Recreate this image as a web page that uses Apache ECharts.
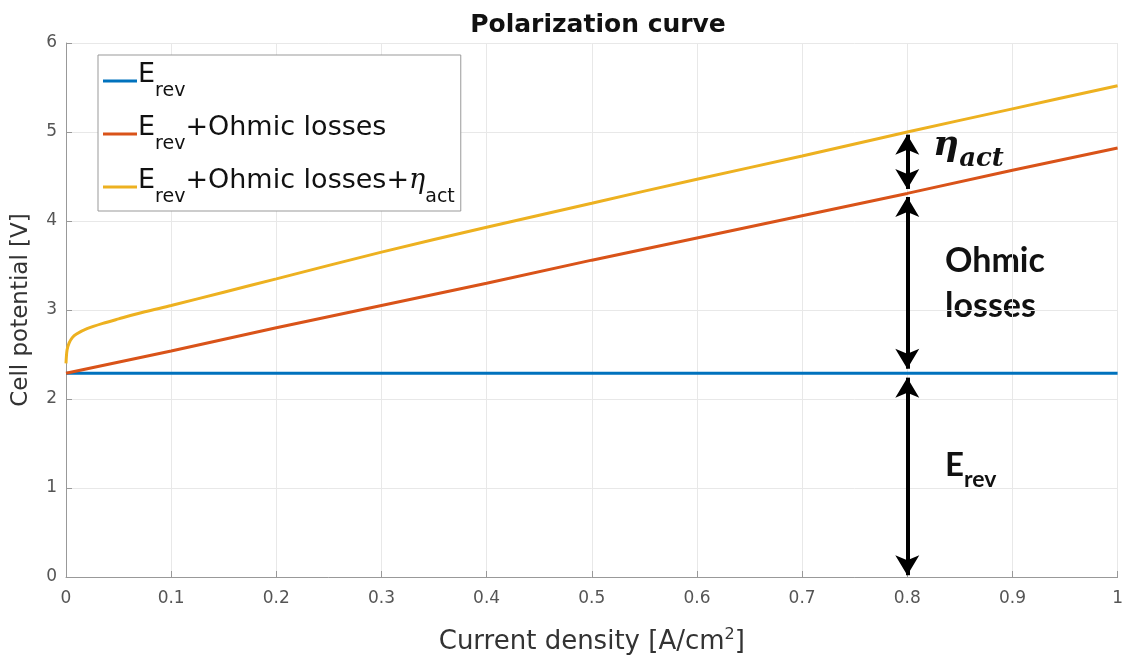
<!DOCTYPE html>
<html>
<head>
<meta charset="utf-8">
<script src="https://cdn.jsdelivr.net/npm/echarts@6/dist/echarts.min.js"></script>
<style>html,body{margin:0;padding:0;background:#fff;}#c{width:1126px;height:661px;}</style>
</head>
<body>
<div id="c"></div>
<script>
// Data
const xRed = [0, 0.1, 0.2, 0.3, 0.4, 0.5, 0.6, 0.7, 0.8, 0.9, 1.0];
const erevValues = [2.29, 2.29, 2.29, 2.29, 2.29, 2.29, 2.29, 2.29, 2.29, 2.29, 2.29];
const ohmicValues = [2.29, 2.54, 2.80, 3.05, 3.30, 3.56, 3.81, 4.06, 4.31, 4.57, 4.82];
const xYellow = [0, 0.001, 0.003, 0.006, 0.01, 0.02, 0.035, 0.05, 0.075, 0.1, 0.15, 0.2, 0.3, 0.4, 0.5, 0.6, 0.7, 0.8, 0.9, 1.0];
const actValues = [2.40, 2.55, 2.63, 2.69, 2.73, 2.79, 2.85, 2.90, 2.98, 3.05, 3.20, 3.35, 3.65, 3.93, 4.20, 4.47, 4.73, 5.00, 5.26, 5.52];
const xTicks = ['0', '0.1', '0.2', '0.3', '0.4', '0.5', '0.6', '0.7', '0.8', '0.9', '1'];
const yTicks = ['0', '1', '2', '3', '4', '5', '6'];
const arrowX = 0.8;
const arrowSegments = [[0.02, 2.24], [2.34, 4.27], [4.36, 4.97]];

function pairs(xs, ys) { return xs.map((x, i) => [x, ys[i]]); }

const FONT = 'DejaVu Sans, Liberation Sans, Arial';
const chart = echarts.init(document.getElementById('c'));
const legendRich = {
  m: { fontSize: 27, fontFamily: FONT, color: '#111', lineHeight: 40, verticalAlign: 'top' },
  s: { fontSize: 19, fontFamily: FONT, color: '#111', lineHeight: 40, verticalAlign: 'bottom', padding: [14,0,0,0] },
  g: { fontSize: 27, fontFamily: 'DejaVu Serif', fontStyle: 'italic', color: '#111', lineHeight: 40, verticalAlign: 'top' }
};
const option = {
  animation: false,
  backgroundColor: '#fff',
  title: {
    text: 'Polarization curve', left: 593, textAlign: 'center', top: 8,
    textStyle: { fontSize: 25, fontWeight: 'bold', fontFamily: FONT, color: '#111' }
  },
  grid: { left: 66, right: 5, top: 43, bottom: 84 },
  legend: {
    orient: 'vertical', left: 98, top: 55,
    backgroundColor: '#fff', borderColor: '#999', borderWidth: 1,
    padding: [6, 6, 4, 5], itemGap: 13, itemWidth: 34, itemHeight: 3, icon: 'rect',
    data: ['erev', 'ohm', 'act'],
    formatter: function (name) {
      if (name === 'erev') return '{m|E}{s|rev}';
      if (name === 'ohm') return '{m|E}{s|rev}{m|+Ohmic losses}';
      return '{m|E}{s|rev}{m|+Ohmic losses+}{g|η}{s|act}';
    },
    textStyle: { rich: legendRich, padding: [0, 0, 0, -4] }
  },
  xAxis: {
    type: 'value', min: 0, max: 1, interval: 0.1,
    name: 'Current density [A/cm{sup|2}]', nameLocation: 'middle', nameGap: 50,
    nameTextStyle: { fontSize: 26, color: '#333', fontFamily: FONT,
      rich: { sup: { fontSize: 16, color: '#333', fontFamily: FONT, verticalAlign: 'top', padding: [0, 0, 14, 0] } } },
    axisLine: { lineStyle: { color: '#999', width: 1 } },
    axisTick: { inside: true, length: 6, lineStyle: { color: '#999' } },
    axisLabel: { fontSize: 17, color: '#555', margin: 13, fontFamily: FONT,
      formatter: function (v) { return xTicks[Math.round(v * 10)]; } },
    splitLine: { show: true, lineStyle: { color: '#e8e8e8', width: 1 } }
  },
  yAxis: {
    type: 'value', min: 0, max: 6, interval: 1,
    name: 'Cell potential [V]', nameLocation: 'middle', nameGap: 33,
    nameTextStyle: { fontSize: 23, color: '#333', fontFamily: FONT },
    axisLine: { show: true, lineStyle: { color: '#999', width: 1 } },
    axisTick: { show: true, inside: true, length: 6, lineStyle: { color: '#999' } },
    axisLabel: { fontSize: 17, color: '#555', margin: 9, fontFamily: FONT,
      formatter: function (v) { return yTicks[Math.round(v)]; } },
    splitLine: { show: true, lineStyle: { color: '#e8e8e8', width: 1 } }
  },
  series: [
    { name: 'erev', type: 'line', data: pairs(xRed, erevValues), showSymbol: false, symbol: 'none',
      lineStyle: { color: '#0072BD', width: 3 }, itemStyle: { color: '#0072BD' }, z: 3,
      markLine: {
        silent: true, symbol: ['arrow', 'arrow'], symbolSize: [18, 20], symbolOffset: 0,
        lineStyle: { color: '#000', width: 4, type: 'solid' }, label: { show: false },
        data: arrowSegments.map(s => [{ coord: [arrowX, s[0]] }, { coord: [arrowX, s[1]] }])
      } },
    { name: 'ohm', type: 'line', data: pairs(xRed, ohmicValues), showSymbol: false, symbol: 'none',
      lineStyle: { color: '#D95319', width: 3 }, itemStyle: { color: '#D95319' }, z: 3 },
    { name: 'act', type: 'line', data: pairs(xYellow, actValues), showSymbol: false, symbol: 'none', smooth: 0.3,
      lineStyle: { color: '#EDB120', width: 3 }, itemStyle: { color: '#EDB120' }, z: 3 }
  ],
  graphic: [
    { type: 'text', left: 933, top: 128, style: {
      text: '{g|η}{s|act}',
      rich: {
        g: { fontSize: 36, fontFamily: 'DejaVu Serif', fontStyle: 'italic', fontWeight: 'bold', fill: '#111', lineHeight: 44, verticalAlign: 'top' },
        s: { fontSize: 26, fontFamily: 'DejaVu Serif', fontStyle: 'italic', fontWeight: 'bold', fill: '#111', lineHeight: 44, verticalAlign: 'bottom', padding: [8,0,0,0] }
      } } },
    { type: 'text', left: 945, top: 239, style: {
      text: 'Ohmic\nlosses', font: 'bold 34px Lato, "Open Sans", sans-serif', fill: '#111', lineHeight: 45 } },
    { type: 'text', left: 945, top: 449, style: {
      text: '{m|E}{s|rev}',
      rich: {
        m: { fontSize: 33, fontFamily: 'Lato', fontWeight: 'bold', fill: '#111', lineHeight: 42, verticalAlign: 'top' },
        s: { fontSize: 23, fontFamily: 'Lato', fontWeight: 'bold', fill: '#111', lineHeight: 42, verticalAlign: 'bottom', padding: [10,0,0,0] }
      } } }
  ]
};
chart.setOption(option);
</script>
</body>
</html>
